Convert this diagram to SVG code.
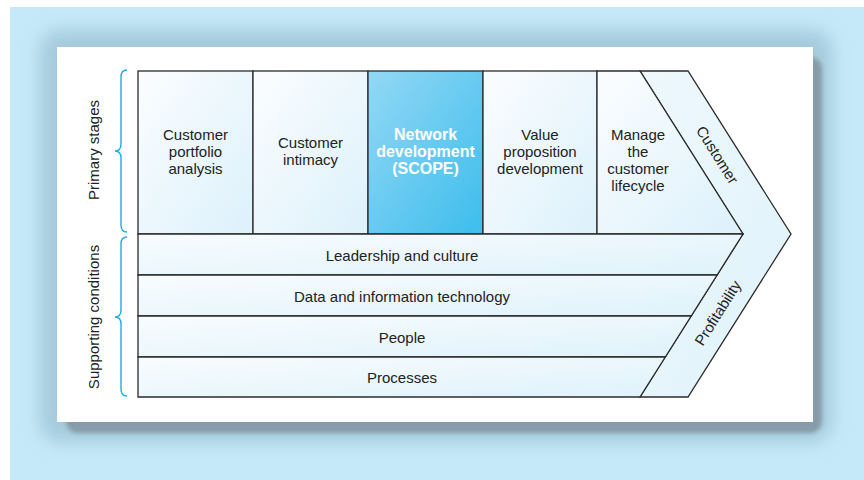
<svg xmlns="http://www.w3.org/2000/svg" width="864" height="480" viewBox="0 0 864 480">
  <defs>
    <linearGradient id="cellFill" x1="0" y1="0" x2="1" y2="1">
      <stop offset="0" stop-color="#fbfdff"/>
      <stop offset="1" stop-color="#dcf1fb"/>
    </linearGradient>
    <linearGradient id="rowFill" x1="0" y1="0" x2="1" y2="1">
      <stop offset="0" stop-color="#f8fcfe"/>
      <stop offset="1" stop-color="#dff2fb"/>
    </linearGradient>
    <linearGradient id="hiFill" x1="0" y1="0" x2="1" y2="1">
      <stop offset="0" stop-color="#93d8f5"/>
      <stop offset="1" stop-color="#3dbdec"/>
    </linearGradient>
    <linearGradient id="bandFill" x1="0" y1="0" x2="1" y2="1">
      <stop offset="0" stop-color="#eef8fd"/>
      <stop offset="1" stop-color="#dff2fb"/>
    </linearGradient>
    <filter id="glow" x="-10%" y="-10%" width="120%" height="120%">
      <feGaussianBlur stdDeviation="9"/>
    </filter>
    <filter id="soft" x="-5%" y="-5%" width="110%" height="110%">
      <feGaussianBlur stdDeviation="2"/>
    </filter>
  </defs>
  <style>
    .cell { stroke: #2b2b2b; stroke-width: 1.3; stroke-linejoin: miter; }
    .lbl { font-family: "Liberation Sans", Arial, sans-serif; font-size: 15px; fill: #222; text-anchor: middle; }
    .hi { font-family: "Liberation Sans", Arial, sans-serif; font-size: 16px; font-weight: bold; fill: #ffffff; text-anchor: middle; }
    .brace { fill: none; stroke: #1aaee8; stroke-width: 1.4; }
  </style>

  <!-- background -->
  <rect x="0" y="0" width="864" height="480" fill="#ffffff"/>
  <rect x="10" y="7" width="854" height="473" fill="#c5e9f8"/>

  <!-- card shadow and card -->
  <rect x="40" y="30" width="792" height="412" rx="20" fill="#8fb6c9" opacity="0.6" filter="url(#glow)"/>
  <rect x="66" y="57" width="756" height="376" rx="12" fill="#869ca8" filter="url(#soft)"/>
  <rect x="57" y="47" width="756" height="375" fill="#ffffff"/>

  <!-- left braces -->
  <g id="brace-primary">
    <path class="brace" d="M127,70 Q121,70 121,77 L121,144 Q121,151 115,151 Q121,151 121,158 L121,225 Q121,232 127,232"/>
    <text class="lbl" transform="translate(99,150) rotate(-90)" x="0" y="0">Primary stages</text>
  </g>
  <g id="brace-supporting">
    <path class="brace" d="M127,237 Q121,237 121,244 L121,310 Q121,317 115,317 Q121,317 121,324 L121,389 Q121,396 127,396"/>
    <text class="lbl" transform="translate(99,317) rotate(-90)" x="0" y="0">Supporting conditions</text>
  </g>

  <!-- band: Customer / Profitability -->
  <g id="band">
    <polygon class="cell" fill="url(#bandFill)" points="640,71 688,71 791,234 688,397 640,397 743,234"/>
    <text class="lbl" transform="translate(717,155) rotate(57.7)" x="0" y="5">Customer</text>
    <text class="lbl" transform="translate(718,313) rotate(-57.7)" x="0" y="5">Profitability</text>
  </g>

  <!-- primary stage cells -->
  <g id="stage-1">
    <rect class="cell" fill="url(#cellFill)" x="138" y="71" width="115" height="163"/>
    <text class="lbl" x="195.5" y="140">Customer</text>
    <text class="lbl" x="195.5" y="157">portfolio</text>
    <text class="lbl" x="195.5" y="174">analysis</text>
  </g>
  <g id="stage-2">
    <rect class="cell" fill="url(#cellFill)" x="253" y="71" width="115" height="163"/>
    <text class="lbl" x="310.5" y="148">Customer</text>
    <text class="lbl" x="310.5" y="165">intimacy</text>
  </g>
  <g id="stage-3">
    <rect class="cell" fill="url(#hiFill)" x="368" y="71" width="115" height="163"/>
    <text class="hi" x="425.5" y="140">Network</text>
    <text class="hi" x="425.5" y="157">development</text>
    <text class="hi" x="425.5" y="174">(SCOPE)</text>
  </g>
  <g id="stage-4">
    <rect class="cell" fill="url(#cellFill)" x="483" y="71" width="114" height="163"/>
    <text class="lbl" x="540" y="140">Value</text>
    <text class="lbl" x="540" y="157">proposition</text>
    <text class="lbl" x="540" y="174">development</text>
  </g>
  <g id="stage-5">
    <polygon class="cell" fill="url(#cellFill)" points="597,71 640,71 743,234 597,234"/>
    <text class="lbl" x="638" y="140">Manage</text>
    <text class="lbl" x="638" y="157">the</text>
    <text class="lbl" x="638" y="174">customer</text>
    <text class="lbl" x="638" y="191">lifecycle</text>
  </g>

  <!-- supporting rows -->
  <g id="row-1">
    <polygon class="cell" fill="url(#rowFill)" points="138,234 743,234 717.1,275 138,275"/>
    <text class="lbl" x="402" y="261">Leadership and culture</text>
  </g>
  <g id="row-2">
    <polygon class="cell" fill="url(#rowFill)" points="138,275 717.1,275 691.2,316 138,316"/>
    <text class="lbl" x="402" y="302">Data and information technology</text>
  </g>
  <g id="row-3">
    <polygon class="cell" fill="url(#rowFill)" points="138,316 691.2,316 665.3,357 138,357"/>
    <text class="lbl" x="402" y="343">People</text>
  </g>
  <g id="row-4">
    <polygon class="cell" fill="url(#rowFill)" points="138,357 665.3,357 640,397 138,397"/>
    <text class="lbl" x="402" y="383">Processes</text>
  </g>

  <!-- connectors: none in this diagram -->
  <g id="connectors"></g>
</svg>
